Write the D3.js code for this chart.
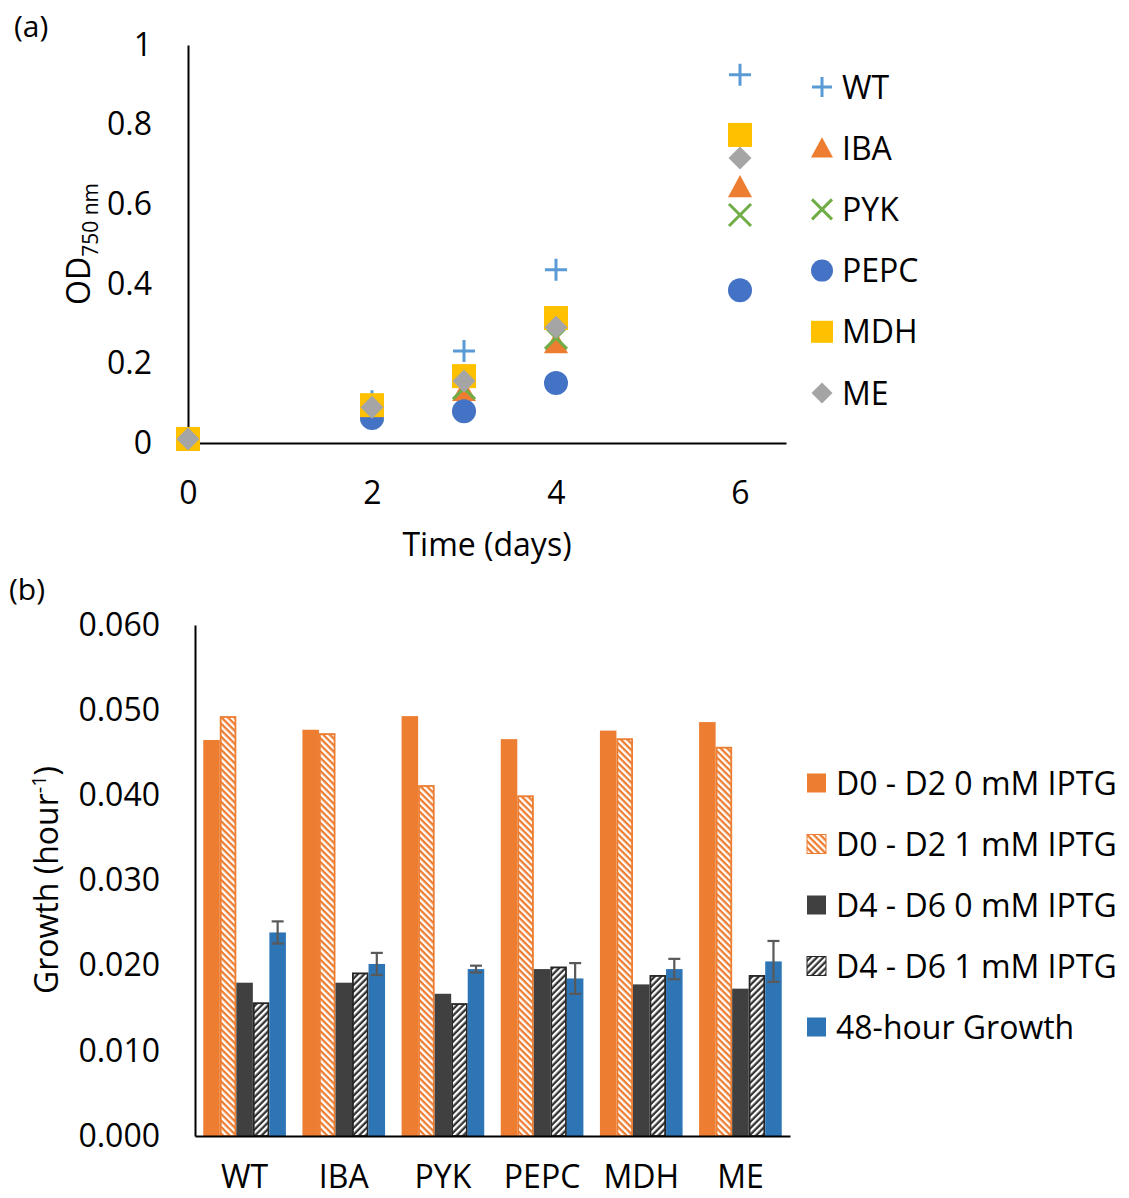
<!DOCTYPE html>
<html>
<head>
<meta charset="utf-8">
<script src="https://cdn.jsdelivr.net/npm/d3@7"></script>
<style>
  body { margin: 0; background: #fff; }
  svg text { font-family: "Open Sans", "Noto Sans", sans-serif; fill: #000; }
</style>
</head>
<body>
<script>
// panel (a): OD750 over time
var days = [0, 2, 3, 4, 6];
var odWT   = [0.01, 0.105, 0.231, 0.435, 0.925];
var odIBA  = [0.01, 0.09, 0.131, 0.251, 0.643];
var odPYK  = [0.01, 0.08, 0.138, 0.264, 0.573];
var odPEPC = [0.01, 0.063, 0.080, 0.151, 0.384];
var odMDH  = [0.01, 0.095, 0.168, 0.314, 0.774];
var odME   = [0.01, 0.090, 0.156, 0.291, 0.716];
var strainNames = ["WT", "IBA", "PYK", "PEPC", "MDH", "ME"];
var odTicks = [0, 0.2, 0.4, 0.6, 0.8, 1];
var dayTicks = [0, 2, 4, 6];

// panel (b): growth rates
var strains = ["WT", "IBA", "PYK", "PEPC", "MDH", "ME"];
var seriesNames = ["D0 - D2 0 mM IPTG", "D0 - D2 1 mM IPTG", "D4 - D6 0 mM IPTG", "D4 - D6 1 mM IPTG", "48-hour Growth"];
var d0d2_0 = [0.0465, 0.0477, 0.0493, 0.0466, 0.0476, 0.0486];
var d0d2_1 = [0.0493, 0.0473, 0.0412, 0.0400, 0.0467, 0.0457];
var d4d6_0 = [0.0180, 0.0180, 0.0167, 0.0196, 0.0178, 0.0173];
var d4d6_1 = [0.0157, 0.0192, 0.0156, 0.0199, 0.0189, 0.0189];
var growth48 = [0.0239, 0.0202, 0.0196, 0.0185, 0.0196, 0.0205];
var growth48Err = [0.0013, 0.0013, 0.0004, 0.0018, 0.0012, 0.0024];
var growthTicks = [0, 0.01, 0.02, 0.03, 0.04, 0.05, 0.06];

var FONT = 32;

function markerPath(type, s) {
    var h = s / 2;
    if (type == "plus") return "M" + (-h) + ",0H" + h + "M0," + (-h) + "V" + h;
    if (type == "cross") return "M" + (-h) + "," + (-h) + "L" + h + "," + h + "M" + h + "," + (-h) + "L" + (-h) + "," + h;
    if (type == "triangle") return "M0," + (-h) + "L" + h + "," + (h * 0.85) + "L" + (-h) + "," + (h * 0.85) + "Z";
    if (type == "square") return "M" + (-h) + "," + (-h) + "H" + h + "V" + h + "H" + (-h) + "Z";
    if (type == "diamond") return "M0," + (-h) + "L" + h + ",0L0," + h + "L" + (-h) + ",0Z";
    return d3.symbol().type(d3.symbolCircle).size(Math.PI * h * h)();
}

function drawPanelA(svg) {
    var x = d3.scaleLinear().domain([0, 6.5]).range([188, 786]);
    var y = d3.scaleLinear().domain([0, 1]).range([443, 45]);

    var styles = [
        {type: "plus", color: "#5B9BD5", size: 22, stroke: true},
        {type: "triangle", color: "#ED7D31", size: 24},
        {type: "cross", color: "#70AD47", size: 22, stroke: true},
        {type: "circle", color: "#4472C4", size: 24},
        {type: "square", color: "#FFC000", size: 24},
        {type: "diamond", color: "#A5A5A5", size: 23}
    ];
    var series = [odWT, odIBA, odPYK, odPEPC, odMDH, odME];

    var yAxis = svg.append("g")
        .attr("transform", "translate(188,0)")
        .call(d3.axisLeft(y).tickValues(odTicks).tickSize(0).tickPadding(36)
              .tickFormat(function(d) { return d == 0 || d == 1 ? d : d3.format(".1f")(d); }));
    var xAxis = svg.append("g")
        .attr("transform", "translate(0,443)")
        .call(d3.axisBottom(x).tickValues(dayTicks).tickSize(0).tickPadding(38).tickFormat(d3.format("d")));
    [xAxis, yAxis].forEach(function(a) {
        a.select(".domain").attr("stroke", "#000").attr("stroke-width", 2);
        a.selectAll("text").style("font-size", FONT + "px").style("font-family", null);
    });

    series.forEach(function(vals, i) {
        var st = styles[i];
        svg.append("g").selectAll("path")
            .data(vals)
            .enter()
            .append("path")
            .attr("transform", function(d, j) { return "translate(" + x(days[j]) + "," + y(d) + ")"; })
            .attr("d", markerPath(st.type, st.size))
            .attr("fill", st.stroke ? "none" : st.color)
            .attr("stroke", st.stroke ? st.color : "none")
            .attr("stroke-width", 3);
    });

    // legend
    var leg = svg.append("g");
    strainNames.forEach(function(name, i) {
        var st = styles[i];
        var ly = 87 + i * 61.2;
        leg.append("path")
            .attr("transform", "translate(822," + ly + ")")
            .attr("d", markerPath(st.type, st.size - 2))
            .attr("fill", st.stroke ? "none" : st.color)
            .attr("stroke", st.stroke ? st.color : "none")
            .attr("stroke-width", 3);
        leg.append("text")
            .attr("x", 842).attr("y", ly)
            .attr("dy", "0.36em")
            .style("font-size", FONT + "px")
            .text(name);
    });

    svg.append("text").attr("x", 14).attr("y", 37).style("font-size", "30px").text("(a)");
    svg.append("text").attr("x", 487).attr("y", 556).attr("text-anchor", "middle")
        .style("font-size", FONT + "px").text("Time (days)");

    var yl = svg.append("text")
        .attr("transform", "translate(90,244) rotate(-90)")
        .attr("text-anchor", "middle")
        .style("font-size", FONT + "px");
    yl.append("tspan").text("OD");
    yl.append("tspan").attr("dy", 8).style("font-size", "21px").text("750 nm");
}

function drawPanelB(svg) {
    var defs = svg.append("defs");
    function hatch(id, color, angle) {
        var p = defs.append("pattern")
            .attr("id", id)
            .attr("patternUnits", "userSpaceOnUse")
            .attr("width", 4.6).attr("height", 4.6)
            .attr("patternTransform", "rotate(" + angle + ")");
        p.append("rect").attr("width", 4.6).attr("height", 4.6).attr("fill", color);
        p.append("rect").attr("width", 2.3).attr("height", 4.6).attr("fill", "#fff");
    }
    hatch("hatchOrange", "#ED7D31", -45);
    hatch("hatchDark", "#333333", 45);

    var fills = ["#ED7D31", "url(#hatchOrange)", "#404040", "url(#hatchDark)", "#2E75B6"];
    var edges = [null, "#ED7D31", null, "#262626", null];
    var series = [d0d2_0, d0d2_1, d4d6_0, d4d6_1, growth48];

    var x0 = d3.scaleBand().domain(strains).range([195, 790]).paddingInner(1 / 6).paddingOuter(1 / 12);
    var x1 = d3.scaleBand().domain(d3.range(series.length)).range([0, x0.bandwidth()]);
    var y = d3.scaleLinear().domain([0, 0.06]).range([1136, 625]);

    series.forEach(function(vals, k) {
        svg.append("g").selectAll("rect")
            .data(vals)
            .enter()
            .append("rect")
            .attr("x", function(d, i) { return x0(strains[i]) + x1(k) + (edges[k] ? 0.9 : 0); })
            .attr("width", x1.bandwidth() - (edges[k] ? 1.8 : 0))
            .attr("y", function(d) { return y(d) + (edges[k] ? 0.9 : 0); })
            .attr("height", function(d) { return y(0) - y(d) - (edges[k] ? 0.9 : 0); })
            .attr("fill", fills[k])
            .attr("stroke", edges[k] || "none")
            .attr("stroke-width", 1.8);
    });

    // error bars on 48-hour growth
    var eb = svg.append("g").attr("stroke", "#595959").attr("stroke-width", 2.2);
    growth48.forEach(function(v, i) {
        var cx = x0(strains[i]) + x1(4) + x1.bandwidth() / 2;
        var lo = y(v - growth48Err[i]), hi = y(v + growth48Err[i]);
        eb.append("line").attr("x1", cx).attr("x2", cx).attr("y1", lo).attr("y2", hi);
        eb.append("line").attr("x1", cx - 6).attr("x2", cx + 6).attr("y1", lo).attr("y2", lo);
        eb.append("line").attr("x1", cx - 6).attr("x2", cx + 6).attr("y1", hi).attr("y2", hi);
    });

    var yAxis = svg.append("g")
        .attr("transform", "translate(195,0)")
        .call(d3.axisLeft(y).tickValues(growthTicks).tickSize(0).tickPadding(35).tickFormat(d3.format(".3f")));
    var xAxis = svg.append("g")
        .attr("transform", "translate(0,1136)")
        .call(d3.axisBottom(x0).tickSize(0).tickPadding(29));
    [xAxis, yAxis].forEach(function(a) {
        a.select(".domain").attr("stroke", "#000").attr("stroke-width", 2);
        a.selectAll("text").style("font-size", FONT + "px").style("font-family", null);
    });

    var leg = svg.append("g");
    seriesNames.forEach(function(name, k) {
        var ly = 783 + k * 61;
        leg.append("rect")
            .attr("x", 807).attr("y", ly - 9.5)
            .attr("width", 19).attr("height", 19)
            .attr("fill", fills[k])
            .attr("stroke", edges[k] || "none")
            .attr("stroke-width", 1);
        leg.append("text")
            .attr("x", 836).attr("y", ly)
            .attr("dy", "0.36em")
            .style("font-size", FONT + "px")
            .text(name);
    });

    svg.append("text").attr("x", 9).attr("y", 600).style("font-size", "30px").text("(b)");

    var yl = svg.append("text")
        .attr("transform", "translate(58,880) rotate(-90)")
        .attr("text-anchor", "middle")
        .style("font-size", FONT + "px");
    yl.append("tspan").text("Growth (hour");
    yl.append("tspan").attr("dy", -12).style("font-size", "20px").text("-1");
    yl.append("tspan").attr("dy", 12).text(")");
}

window.onload = function() {
    var svg = d3.select("body").append("svg")
        .attr("width", 1129)
        .attr("height", 1198);
    drawPanelA(svg);
    drawPanelB(svg);
};
</script>
</body>
</html>
